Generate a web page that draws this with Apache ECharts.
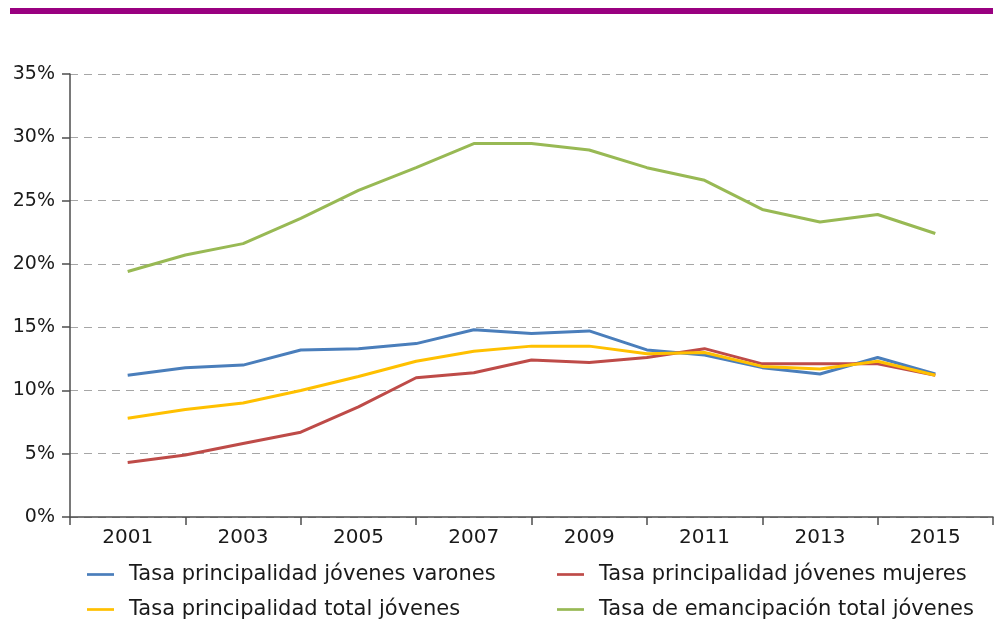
<!DOCTYPE html>
<html><head><meta charset="utf-8">
<script src="https://cdn.jsdelivr.net/npm/echarts@6/dist/echarts.min.js"></script>
<style>html,body{margin:0;padding:0;background:#fff}#c{width:996px;height:619px}</style>
</head><body><div id="c"></div>
<script>
const years = ['2001','2002','2003','2004','2005','2006','2007','2008','2009','2010','2011','2012','2013','2014','2015'];
const varones = [11.2,11.8,12.0,13.2,13.3,13.7,14.8,14.5,14.7,13.2,12.8,11.8,11.3,12.6,11.3];
const mujeres = [4.3,4.9,5.8,6.7,8.7,11.0,11.4,12.4,12.2,12.6,13.3,12.1,12.1,12.1,11.2];
const total = [7.8,8.5,9.0,10.0,11.1,12.3,13.1,13.5,13.5,12.9,13.0,11.9,11.7,12.3,11.2];
const emancipacion = [19.4,20.7,21.6,23.6,25.8,27.6,29.5,29.5,29.0,27.6,26.6,24.3,23.3,23.9,22.4];
const seriesNames = ['Tasa principalidad jóvenes varones','Tasa principalidad jóvenes mujeres','Tasa principalidad total jóvenes','Tasa de emancipación total jóvenes'];
const yTicks = [0,5,10,15,20,25,30,35];

// pad axis with an empty slot at each end (2000 and 2016)
const cats = ['2000'].concat(years).concat(['2016']);
const pad = a => [null].concat(a).concat([null]);
const colors = ['#4a7ebb','#be4b48','#ffc000','#98b954'];
const FONT = '"DejaVu Sans", sans-serif';
const legendPos = [[87,564],[557,564],[87,599],[557,599]];

const chart = echarts.init(document.getElementById('c'));
chart.setOption({
  animation:false,
  textStyle:{fontFamily:FONT},
  graphic:[{type:'rect',shape:{x:10,y:8,width:983,height:6},style:{fill:'#990080'},silent:true}],
  grid:{left:70,right:3,top:74,bottom:102,containLabel:false},
  legend:seriesNames.map((n,i)=>({
    data:[{name:n,icon:'path://M0,0H30V3H0Z'}],
    left:legendPos[i][0], top:legendPos[i][1], itemWidth:27, itemHeight:3, padding:0,
    textStyle:{fontSize:21,color:'#1a1a1a',fontFamily:FONT,padding:[0,0,0,10]}
  })),
  xAxis:{
    type:'category', data:cats, boundaryGap:false,
    axisLine:{lineStyle:{color:'#4d4d4d',width:1.5}},
    axisTick:{length:8,interval:(i)=>i%2===0,lineStyle:{color:'#4d4d4d',width:1.5}},
    axisLabel:{interval:(i,v)=>i%2===1,fontSize:20,color:'#1a1a1a',margin:11,fontFamily:FONT},
    splitLine:{show:false}
  },
  yAxis:{
    type:'value', min:0, max:35, interval:5,
    axisLine:{show:true,lineStyle:{color:'#4d4d4d',width:1.5}},
    axisTick:{show:true,length:8,lineStyle:{color:'#4d4d4d',width:1.5}},
    axisLabel:{formatter:v=>yTicks.includes(v)?v+'%':'',fontSize:19,color:'#1a1a1a',margin:15,fontFamily:FONT},
    splitLine:{lineStyle:{color:'#a6a6a6',type:[8,6],width:1}}
  },
  series:[varones,mujeres,total,emancipacion].map((d,i)=>({
    name:seriesNames[i], type:'line', data:pad(d), symbol:'none',
    lineStyle:{color:colors[i],width:3}, itemStyle:{color:colors[i]}, connectNulls:false
  }))
});
</script></body></html>
